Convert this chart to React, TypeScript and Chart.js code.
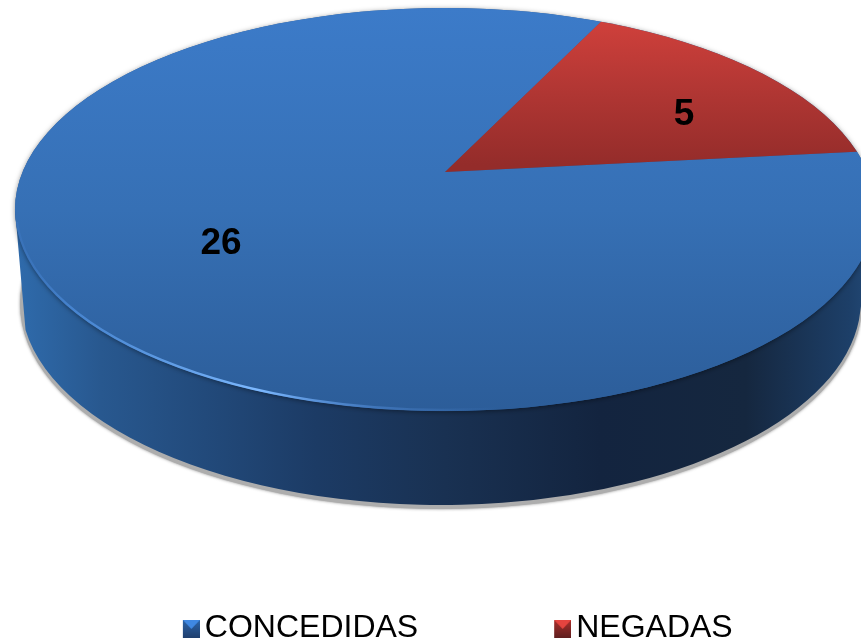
import React, { useEffect, useRef } from "react";
import { Chart, registerables } from "chart.js";

Chart.register(...registerables);

const categories = ["CONCEDIDAS", "NEGADAS"];
const values = [26, 5];
const topStops = [
  ["#3c7bc9", "#3670b5", "#2c5d99"],
  ["#cf403b", "#b03633", "#942c2a"],
];
const markerColors = [
  ["#3f88e2", "#2c64a8", "#1f3f6e"],
  ["#e5443f", "#a82f2c", "#5f1f1f"],
];

const W = 861;
const H = 644;
const APEX = { x: 445, y: 172 };
const TOP = { x: 445, y: 209.5, rx: 430, ry: 201.5 };
const BASE = { x: 441, y: 300, rx: 420, ry: 205 };
const FLAT = TOP.ry / TOP.rx;
const REACH = 520;
const LABEL_AT = [
  { x: 221, y: 244 },
  { x: 684, y: 115 },
];

function pieFrame(chart: any) {
  const a = chart.chartArea;
  const cx = (a.left + a.right) / 2;
  const cy = (a.top + a.bottom) / 2;
  const r = Math.min(a.right - a.left, a.bottom - a.top) / 2;
  return { cx, cy, s: REACH / r };
}

function sliceFill(ctx: any) {
  const chart = ctx.chart;
  const stops = topStops[ctx.dataIndex];
  if (!chart.chartArea) return stops[1];
  const { cy, s } = pieFrame(chart);
  const toLocal = (y: number) => cy + (y - APEX.y) / (s * FLAT);
  const y0 = ctx.dataIndex === 0 ? 8 : 22;
  const y1 = ctx.dataIndex === 0 ? 411 : 165;
  const g = chart.ctx.createLinearGradient(0, toLocal(y0), 0, toLocal(y1));
  g.addColorStop(0, stops[0]);
  g.addColorStop(0.5, stops[1]);
  g.addColorStop(1, stops[2]);
  return g;
}

function ellipsePath(c: CanvasRenderingContext2D, e: any) {
  c.beginPath();
  c.ellipse(e.x, e.y, e.rx, e.ry, 0, 0, Math.PI * 2);
}

const solidPie = {
  id: "solidPie",
  beforeDatasetsDraw(chart: any) {
    const c: CanvasRenderingContext2D = chart.ctx;
    c.save();
    const a0 = Math.PI - Math.asin(30 / BASE.ry);
    const a1 = Math.asin(20 / BASE.ry);
    const wall = () => {
      c.beginPath();
      c.moveTo(TOP.x - TOP.rx, TOP.y);
      c.lineTo(BASE.x + BASE.rx * Math.cos(a0), BASE.y + BASE.ry * Math.sin(a0));
      c.ellipse(BASE.x, BASE.y, BASE.rx, BASE.ry, 0, a0, a1, true);
      c.lineTo(TOP.x + TOP.rx, TOP.y);
      c.closePath();
    };
    // soft grey shadow hugging the lower edge
    c.save();
    c.shadowColor = "rgba(120,120,120,0.85)";
    c.shadowBlur = 3;
    c.fillStyle = "#adadad";
    ellipsePath(c, { x: BASE.x, y: BASE.y + 4, rx: BASE.rx + 1, ry: BASE.ry });
    c.fill();
    c.restore();
    const g = c.createLinearGradient(15, 0, 875, 0);
    g.addColorStop(0, "#2f6bac");
    g.addColorStop(0.1, "#28588f");
    g.addColorStop(0.22, "#224a7b");
    g.addColorStop(0.35, "#1c3b65");
    g.addColorStop(0.5, "#193152");
    g.addColorStop(0.68, "#13243f");
    g.addColorStop(0.85, "#15273f");
    g.addColorStop(0.97, "#1d3f68");
    g.addColorStop(1, "#234a78");
    c.fillStyle = g;
    wall();
    c.fill();
    // soft dark seam under the rim
    c.save();
    c.shadowColor = "rgba(0,0,0,0.45)";
    c.shadowBlur = 5;
    c.shadowOffsetY = 1;
    c.fillStyle = "#2c5c98";
    ellipsePath(c, TOP);
    c.fill();
    c.restore();
    // flatten the library's pie onto the top face
    ellipsePath(c, TOP);
    c.clip();
    const { cx, cy, s } = pieFrame(chart);
    c.translate(APEX.x, APEX.y);
    c.scale(s, s * FLAT);
    c.translate(-cx, -cy);
  },
  afterDatasetsDraw(chart: any) {
    const c: CanvasRenderingContext2D = chart.ctx;
    c.restore();
    // rim highlight
    c.save();
    const g = c.createLinearGradient(15, 0, 500, 0);
    g.addColorStop(0, "rgba(70,130,210,0.2)");
    g.addColorStop(0.12, "rgba(80,145,225,0.7)");
    g.addColorStop(0.5, "rgba(125,185,255,1)");
    g.addColorStop(0.75, "rgba(90,150,230,0.4)");
    g.addColorStop(1, "rgba(80,140,220,0)");
    c.strokeStyle = g;
    c.lineWidth = 2.5;
    c.beginPath();
    c.ellipse(TOP.x, TOP.y, TOP.rx - 1, TOP.ry - 1, 0, Math.PI * 0.98, Math.PI * 0.45, true);
    c.stroke();
    c.restore();
    // value labels
    c.save();
    c.font = "bold 37px 'Liberation Sans', Arial, sans-serif";
    c.fillStyle = "#000";
    c.textAlign = "center";
    c.textBaseline = "middle";
    values.forEach((v, i) => c.fillText(String(v), LABEL_AT[i].x, LABEL_AT[i].y));
    c.restore();
  },
};

function makeMarker(colors: string[]) {
  const padX = 6;
  const padY = 2;
  const w = 17;
  const h = 18;
  const m = document.createElement("canvas");
  m.width = w + padX;
  m.height = h + padY;
  const c = m.getContext("2d")!;
  const body = c.createLinearGradient(0, padY, 0, padY + h);
  body.addColorStop(0, colors[1]);
  body.addColorStop(1, colors[2]);
  c.fillStyle = body;
  c.fillRect(padX, padY, w, h);
  c.fillStyle = colors[0];
  c.beginPath();
  c.moveTo(padX, padY);
  c.lineTo(padX + w, padY);
  c.lineTo(padX + w / 2, padY + h / 2);
  c.closePath();
  c.fill();
  return m;
}

export default function App() {
  const ref = useRef<HTMLCanvasElement>(null);
  useEffect(() => {
    const markers = markerColors.map(makeMarker);
    const chart = new Chart(ref.current!, {
      type: "pie",
      data: {
        labels: categories,
        datasets: [
          {
            data: values,
            backgroundColor: sliceFill as any,
            borderWidth: 0,
            clip: false as any,
          },
        ],
      },
      options: {
        responsive: false,
        animation: false,
        rotation: 84,
        layout: { padding: { left: 30, right: -29.5, bottom: -10 } },
        plugins: {
          tooltip: { enabled: false },
          legend: {
            position: "bottom",
            labels: {
              usePointStyle: true,
              pointStyleWidth: 1,
              padding: 141,
              color: "#000",
              font: { family: "'Liberation Sans', Arial, sans-serif", size: 32 },
              generateLabels: () =>
                categories.map((text, i) => ({
                  text,
                  index: i,
                  datasetIndex: 0,
                  pointStyle: markers[i],
                  fillStyle: "transparent",
                  strokeStyle: "transparent",
                  lineWidth: 0,
                  fontColor: "#000",
                })),
            },
          },
        },
      },
      plugins: [solidPie],
    } as any);
    return () => chart.destroy();
  }, []);
  return (
    <div style={{ position: "fixed", left: 0, top: 0, width: W, height: H, background: "#fff" }}>
      <canvas ref={ref} width={W} height={H} style={{ display: "block" }} />
    </div>
  );
}
